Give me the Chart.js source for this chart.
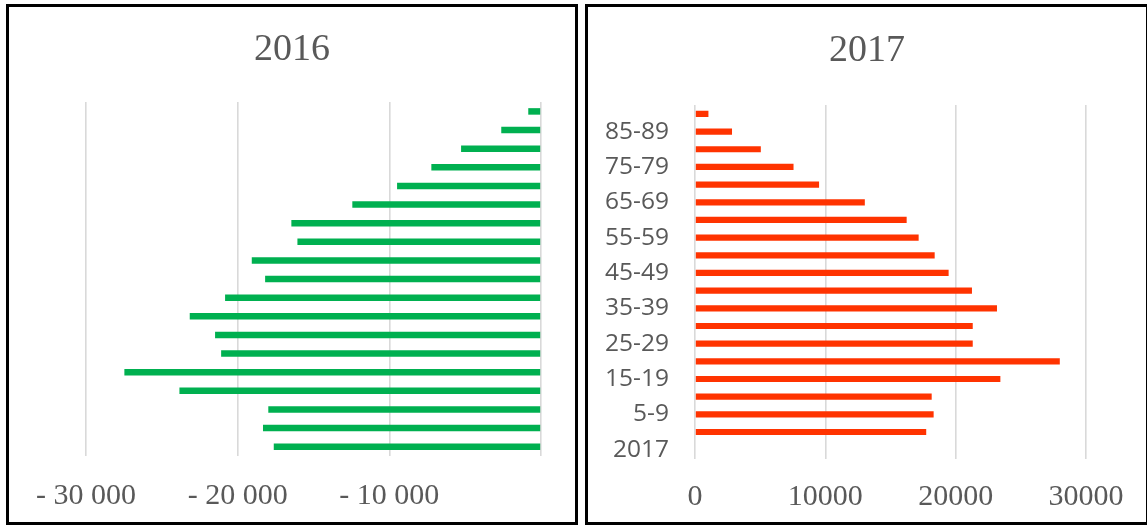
<!DOCTYPE html>
<html>
<head>
<meta charset="utf-8">
<title>Population pyramid 2016 / 2017</title>
<script src="https://cdn.jsdelivr.net/npm/chart.js@4/dist/chart.umd.min.js"></script>
<style>
  html, body { margin: 0; padding: 0; background: #fff; }
  body { position: relative; width: 1147px; height: 528px; overflow: hidden; }
  .panel { position: absolute; box-sizing: border-box; border: 3px solid #000; background: #fff; }
  .panel canvas { display: block; }
</style>
</head>
<body>
<div class="panel" style="left:6px;top:4px;width:572px;height:521px"><canvas id="chart2016" width="566" height="515"></canvas></div>
<div class="panel" style="left:585px;top:4px;width:564px;height:521px"><canvas id="chart2017" width="558" height="515"></canvas></div>
<script>
'use strict';

// age groups, youngest first (drawn bottom to top)
var AGE_GROUPS = ['0-4', '5-9', '10-14', '15-19', '20-24', '25-29', '30-34', '35-39', '40-44',
  '45-49', '50-54', '55-59', '60-64', '65-69', '70-74', '75-79', '80-84', '85-89', '90+'];

var POP_2016 = [17620, 18330, 17980, 23840, 27470, 21090, 21490, 23160, 20830,
  18190, 19070, 16060, 16460, 12440, 9490, 7230, 5270, 2620, 840];

var POP_2017 = [17740, 18310, 18160, 23430, 27990, 21310, 21310, 23170, 21250,
  19460, 18390, 17160, 16240, 13030, 9520, 7560, 5050, 2840, 1030];

// right chart has an extra empty bottom category labelled with the year
var LABELS_2017 = ['2017'].concat(AGE_GROUPS);
var TICKS_2016 = [-30000, -20000, -10000, 0];
var TICKS_2017 = [0, 10000, 20000, 30000];

var GREEN = '#00B050';
var RED = '#FF3300';
var GREY_TEXT = '#595959';
var GRID = '#d9d9d9';
var SERIF = "'Liberation Serif', 'Times New Roman', serif";
var SANS = "'Open Sans', 'Noto Sans', sans-serif";

function spaced(n) {
  return String(n).replace(/\B(?=(\d{3})+(?!\d))/g, ' ');
}

function leftTick(v) {
  if (v === 0) return '';
  return '- ' + spaced(Math.abs(v));
}

function titleOpts(text, top, bottom) {
  return {
    display: true,
    text: text,
    color: GREY_TEXT,
    font: { family: SERIF, size: 38, weight: 'normal' },
    padding: { top: top, bottom: bottom }
  };
}

// fixed-width blank axis, used only to reserve room beside the plot
function spacer(pos, w) {
  return {
    type: 'category',
    position: pos,
    display: true,
    border: { display: false },
    grid: { display: false, drawTicks: false },
    ticks: { display: false },
    afterFit: function (s) { s.width = w; }
  };
}

function xAxis(vals, cb, pad, h) {
  return {
    type: 'linear',
    min: vals[0],
    max: vals[vals.length - 1],
    border: { display: false },
    grid: { color: GRID, lineWidth: 1.6, drawTicks: false },
    afterBuildTicks: function (s) {
      s.ticks = vals.map(function (v) { return { value: v }; });
    },
    afterFit: function (s) { s.height = h; },
    ticks: {
      color: GREY_TEXT,
      padding: pad,
      maxRotation: 0,
      font: { family: SERIF, size: 30 },
      callback: cb
    }
  };
}

var common = {
  indexAxis: 'y',
  responsive: false,
  animation: false,
  events: [],
  layout: { padding: 0 },
  datasets: { bar: { barPercentage: 0.35, categoryPercentage: 1 } }
};

// 2016 — bars to the left of zero
new Chart(document.getElementById('chart2016'), {
  type: 'bar',
  data: {
    labels: AGE_GROUPS,
    datasets: [{
      data: POP_2016.map(function (v) { return -v; }),
      backgroundColor: GREEN,
      borderWidth: 0
    }]
  },
  options: Object.assign({}, common, {
    plugins: {
      legend: { display: false },
      tooltip: { enabled: false },
      title: titleOpts('2016', 20.5, 29)
    },
    scales: {
      x: xAxis(TICKS_2016, leftTick, 22, 66),
      y: Object.assign(spacer('left', 77), { reverse: true }),
      yPad: spacer('right', 34)
    }
  })
});

// 2017 — bars to the right of zero
new Chart(document.getElementById('chart2017'), {
  type: 'bar',
  data: {
    labels: LABELS_2017,
    datasets: [{
      data: [null].concat(POP_2017),
      backgroundColor: RED,
      borderWidth: 0
    }]
  },
  options: Object.assign({}, common, {
    plugins: {
      legend: { display: false },
      tooltip: { enabled: false },
      title: titleOpts('2017', 21.5, 31)
    },
    scales: {
      x: xAxis(TICKS_2017, function (v) { return String(v); }, 20.5, 63.5),
      y: {
        reverse: true,
        border: { display: false },
        grid: { display: false, drawTicks: false },
        afterFit: function (s) { s.width = 107; },
        ticks: {
          autoSkip: false,
          padding: 26,
          color: GREY_TEXT,
          font: { family: SANS, size: 24.5 },
          callback: function (v, i) { return i % 2 === 0 ? this.getLabelForValue(v) : ''; }
        }
      },
      yPad: spacer('right', 60)
    }
  })
});
</script>
</body>
</html>
